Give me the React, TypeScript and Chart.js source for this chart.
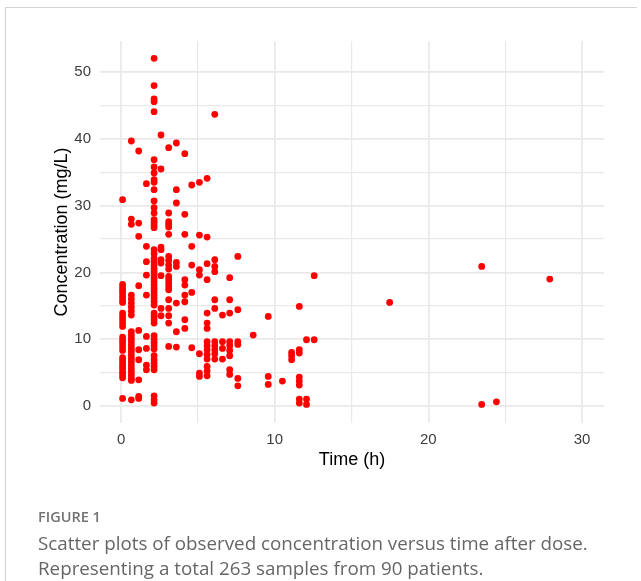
import React, { useEffect, useRef } from "react";
import { Chart, registerables } from "chart.js";

Chart.register(...registerables);

// ---- Data ----
const xGridValues = [0, 5, 10, 15, 20, 25, 30];
const xLabelValues = [0, 10, 20, 30];
const yGridValues = [0, 5, 10, 15, 20, 25, 30, 35, 40, 45, 50];
const yLabelValues = [0, 10, 20, 30, 40, 50];

const xTitle = "Time (h)";
const yTitle = "Concentration (mg/L)";
const figureLabel = "FIGURE 1";
const captionLines = [
  "Scatter plots of observed concentration versus time after dose.",
  "Representing a total 263 samples from 90 patients.",
];

// sampling times (h) and the concentrations (mg/L) observed at each time
const sampleTimes = [
  0.1, 0.67, 1.15, 1.65, 2.15, 2.6, 3.1, 3.6, 4.15, 4.6, 5.1, 5.6, 6.1, 6.6,
  7.07, 7.6, 8.6, 9.58, 10.5, 11.1, 11.6, 12.07, 12.57, 17.48, 23.47, 24.43,
  27.9,
];

const concentrationsAtTime: number[][] = [
  [30.9, 18.2, 17.7, 17.3, 16.9, 16.4, 15.9, 15.5, 13.9, 13.4, 12.9, 12.4, 11.9,
    10.3, 9.8, 9.3, 8.8, 8.3, 7.2, 6.8, 6.3, 5.9, 5.5, 5.0, 4.6, 4.2, 1.1],
  [39.7, 28.0, 27.2, 16.6, 16.0, 15.4, 14.8, 14.2, 13.6, 11.1, 10.6, 10.1, 9.6,
    9.1, 8.6, 8.1, 7.6, 7.1, 6.6, 6.1, 5.6, 5.1, 4.6, 4.1, 3.8, 0.9],
  [38.2, 27.4, 25.4, 18.0, 11.3, 8.4, 6.9, 3.9, 1.1, 1.4],
  [33.3, 23.9, 21.6, 19.6, 16.6, 10.4, 8.6, 6.1, 5.4],
  [52.1, 48.0, 46.0, 45.6, 44.1, 36.9, 35.8, 34.9, 33.9, 33.5, 32.4, 30.7, 29.7,
    28.9, 27.9, 27.5, 27.1, 26.7, 23.4, 22.8, 22.1, 21.6, 21.1, 20.6, 20.1, 19.6,
    19.1, 18.6, 18.1, 17.6, 17.1, 16.6, 16.1, 15.6, 15.1, 13.9, 13.4, 12.9, 12.4,
    10.5, 10.0, 9.5, 9.0, 8.5, 7.5, 6.9, 6.4, 5.9, 5.4, 1.5, 0.9, 0.4],
  [40.6, 35.5, 23.8, 23.4, 21.9, 21.4, 19.5, 14.6, 13.5],
  [38.7, 28.9, 27.6, 27.2, 26.8, 25.7, 22.4, 21.8, 21.1, 20.5, 19.4, 18.9, 18.4,
    17.9, 17.4, 15.9, 14.6, 13.5, 12.4, 8.9],
  [39.4, 32.4, 30.4, 21.5, 20.9, 15.4, 11.1, 8.8],
  [37.8, 28.7, 25.7, 18.9, 18.1, 16.6, 15.6, 12.9, 11.6],
  [33.1, 23.9, 21.1, 17.0, 8.7],
  [33.5, 25.6, 20.4, 19.6, 7.8, 4.9, 4.4],
  [34.1, 25.3, 21.3, 18.9, 13.9, 12.4, 11.6, 9.6, 9.0, 8.4, 7.7, 7.0, 5.9, 5.2, 4.5],
  [43.7, 21.9, 20.9, 20.1, 15.9, 14.6, 9.6, 9.0, 8.4, 7.8, 7.0],
  [13.6, 9.6, 8.6, 7.0],
  [19.2, 15.9, 13.9, 9.6, 9.0, 8.3, 7.5, 5.4, 4.7],
  [22.4, 14.4, 9.6, 9.2, 4.1, 3.0],
  [10.6],
  [13.4, 4.4, 3.2],
  [3.7],
  [8.0, 7.5, 6.9],
  [14.9, 8.4, 7.9, 4.3, 3.7, 3.1, 1.0, 0.4],
  [9.9, 1.0, 0.2],
  [19.5, 9.9],
  [15.5],
  [20.9, 0.2],
  [0.6],
  [19.0],
];

const W = 641;
const H = 581;

const axisTitlePlugin = {
  id: "axisTitles",
  afterDraw(chart: any) {
    const { ctx, chartArea } = chart;
    ctx.save();
    ctx.fillStyle = "#000000";
    ctx.font = "18px 'Liberation Sans', Arial, sans-serif";
    ctx.textAlign = "center";
    ctx.textBaseline = "middle";
    ctx.fillText(xTitle, (chartArea.left + chartArea.right) / 2, 460);
    ctx.translate(62, (chartArea.top + chartArea.bottom) / 2);
    ctx.rotate(-Math.PI / 2);
    ctx.fillText(yTitle, 0, 0);
    ctx.restore();
  },
};

export default function App() {
  const canvasRef = useRef<HTMLCanvasElement | null>(null);

  useEffect(() => {
    if (!canvasRef.current) return;
    const points: { x: number; y: number }[] = [];
    sampleTimes.forEach((t, i) => {
      concentrationsAtTime[i].forEach((c) => points.push({ x: t, y: c }));
    });

    const chart = new Chart(canvasRef.current, {
      type: "scatter",
      data: {
        datasets: [
          {
            data: points,
            backgroundColor: "#ff0000",
            borderWidth: 0,
            pointRadius: 3.4,
            pointHoverRadius: 3.4,
          },
        ],
      },
      options: {
        animation: false,
        responsive: false,
        devicePixelRatio: 1,
        events: [],
        layout: { padding: { left: 40, right: 37, top: 41, bottom: 108 } },
        plugins: { legend: { display: false }, tooltip: { enabled: false } },
        scales: {
          x: {
            type: "linear",
            min: -1.37,
            max: 31.43,
            afterFit: (s: any) => {
              s.height = 50;
            },
            afterBuildTicks: (s: any) => {
              s.ticks = xGridValues.map((v) => ({ value: v }));
            },
            border: { display: false },
            grid: {
              color: "#e9e9e9",
              lineWidth: (c: any) =>
                xLabelValues.includes(c.tick?.value) ? 1.7 : 1.2,
              drawTicks: false,
            },
            ticks: {
              autoSkip: false,
              maxRotation: 0,
              padding: 8,
              color: "#3d3d3d",
              font: { family: "'Liberation Sans', Arial, sans-serif", size: 15 },
              callback: (v: any) => (xLabelValues.includes(v) ? String(v) : ""),
            },
          },
          y: {
            type: "linear",
            min: -2.58,
            max: 54.69,
            afterFit: (s: any) => {
              s.width = 60;
            },
            afterBuildTicks: (s: any) => {
              s.ticks = yGridValues.map((v) => ({ value: v }));
            },
            border: { display: false },
            grid: {
              color: "#e9e9e9",
              lineWidth: (c: any) =>
                yLabelValues.includes(c.tick?.value) ? 1.7 : 1.2,
              drawTicks: false,
            },
            ticks: {
              autoSkip: false,
              padding: 9,
              color: "#3d3d3d",
              font: { family: "'Liberation Sans', Arial, sans-serif", size: 15 },
              callback: (v: any) => (yLabelValues.includes(v) ? String(v) : ""),
            },
          },
        },
      },
      plugins: [axisTitlePlugin],
    });
    return () => chart.destroy();
  }, []);

  return (
    <div
      style={{
        position: "fixed",
        left: 0,
        top: 0,
        width: W,
        height: H,
        background: "#ffffff",
        overflow: "hidden",
      }}
    >
      <div
        style={{
          position: "absolute",
          left: 5,
          top: 7,
          width: 632,
          height: H,
          borderTop: "1.5px solid #d4d4d4",
          borderLeft: "1.5px solid #d4d4d4",
          boxSizing: "border-box",
        }}
      />
      <canvas
        ref={canvasRef}
        width={W}
        height={H}
        style={{ position: "absolute", left: 0, top: 0, width: W, height: H }}
      />
      <div
        style={{
          position: "absolute",
          left: 38,
          top: 507,
          fontFamily: "'Open Sans', sans-serif",
          fontWeight: 600,
          fontSize: 14.5,
          lineHeight: "20px",
          color: "#737373",
        }}
      >
        {figureLabel}
      </div>
      <div
        style={{
          position: "absolute",
          left: 38,
          top: 531,
          fontFamily: "'Open Sans', sans-serif",
          fontSize: 18.8,
          lineHeight: "25px",
          color: "#666666",
          whiteSpace: "nowrap",
        }}
      >
        {captionLines.map((l, i) => (
          <div key={i}>{l}</div>
        ))}
      </div>
    </div>
  );
}
